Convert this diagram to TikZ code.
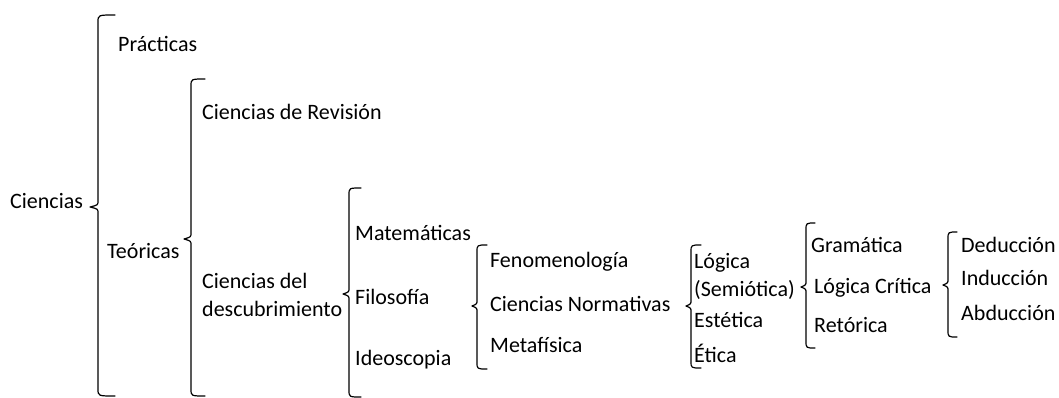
\documentclass[tikz,border=0pt]{standalone}
\usepackage{fontspec}
\setmainfont{Carlito}
\newcommand\mybrace[6]{% x top mid bot hook tip
  \draw[bracestyle] (#1+#5,#2) .. controls (#1,#2) .. (#1,#2+7) -- (#1,#3-6) .. controls (#1,#3-2) .. (#1-#6,#3) .. controls (#1,#3+2) .. (#1,#3+6) -- (#1,#4-7) .. controls (#1,#4) .. (#1+#5,#4);}
\begin{document}
\begin{tikzpicture}[x=1pt,y=-1pt,
  bracestyle/.style={line width=1.2pt,line join=round,line cap=round},
  lbl/.style={anchor=base west,inner sep=0pt,font=\fontsize{22}{28}\selectfont,align=left}]
\useasboundingbox (0,0) rectangle (1059,398);
% braces
\mybrace{98}{15}{207}{396}{17}{8}
\mybrace{191}{79}{239}{396}{14}{7}
\mybrace{349}{188}{294}{397}{12}{6}
\mybrace{477}{245}{306}{369}{10}{5}
\mybrace{691}{245}{306}{368}{10}{5}
\mybrace{806}{223}{287}{348}{9}{5}
\mybrace{948}{232}{285}{337}{9}{5}
% labels
\node[lbl] (ciencias) at (10,208) {Ciencias};
\node[lbl] (practicas) at (118,52) {Prácticas};
\node[lbl] (teoricas) at (107,258) {Teóricas};
\node[lbl] (revision) at (202,120) {Ciencias de Revisión};
\node[lbl] (descub) at (202,316) {Ciencias del\\descubrimiento};
\node[lbl] (mate) at (355,240) {Matemáticas};
\node[lbl] (filo) at (355,304) {Filosofía};
\node[lbl] (ideo) at (355,365) {Ideoscopia};
\node[lbl] (feno) at (490,267) {Fenomenología};
\node[lbl] (norm) at (490,311) {Ciencias Normativas};
\node[lbl] (meta) at (490,352) {Metafísica};
\node[lbl] (logica) at (694,296) {Lógica\\(Semiótica)};
\node[lbl] (estetica) at (694,327) {Estética};
\node[lbl] (etica) at (694,362) {Ética};
\node[lbl] (grama) at (811,252) {Gramática};
\node[lbl] (critica) at (814,293) {Lógica Crítica};
\node[lbl] (retorica) at (814,332) {Retórica};
\node[lbl] (dedu) at (961,252) {Deducción};
\node[lbl] (indu) at (961,285) {Inducción};
\node[lbl] (abdu) at (961,320) {Abducción};
\end{tikzpicture}
\end{document}
